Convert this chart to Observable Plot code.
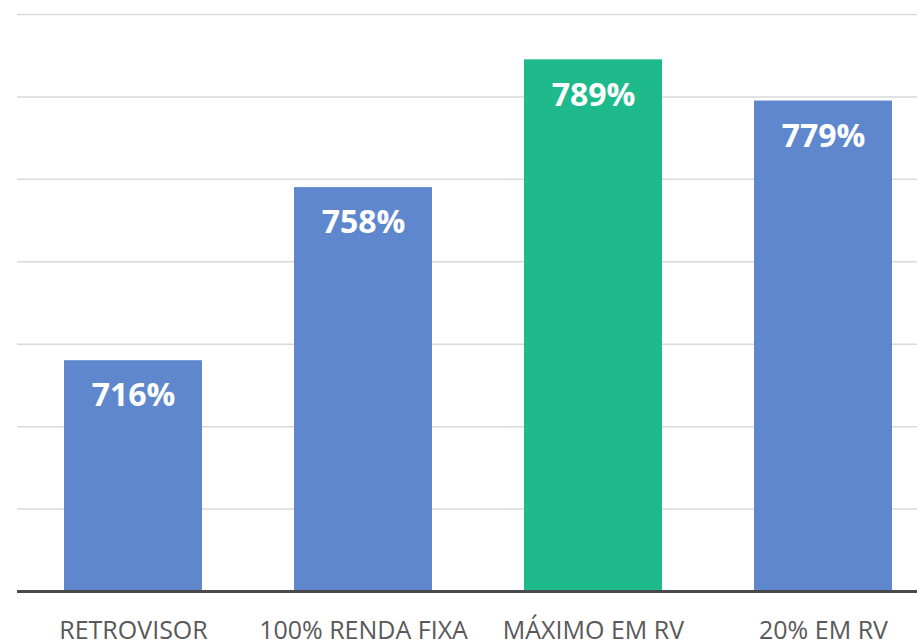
<!DOCTYPE html>
<html>
<head>
<meta charset="utf-8">
<script src="https://cdn.jsdelivr.net/npm/d3@7"></script>
<script src="https://cdn.jsdelivr.net/npm/@observablehq/plot@0.6"></script>
<style>
  html, body { margin: 0; padding: 0; background: #fff; overflow: hidden; }
  #chart svg { overflow: hidden; display: block; }
</style>
</head>
<body>
<div id="chart"></div>
<script>
const categories = ["RETROVISOR", "100% RENDA FIXA", "MÁXIMO EM RV", "20% EM RV"];
const values = [716, 758, 789, 779];
const valueLabels = ["716%", "758%", "789%", "779%"];
const highlighted = ["MÁXIMO EM RV"];
const gridValues = [680, 700, 720, 740, 760, 780, 800];
const yDomain = [660, 800];

const data = categories.map((c, i) => ({
  cat: c,
  value: values[i],
  label: valueLabels[i],
  hi: highlighted.includes(c)
}));

const chart = Plot.plot({
  width: 917,
  height: 642,
  marginTop: 14,
  marginBottom: 51,
  marginLeft: 17,
  marginRight: 0,
  style: { fontFamily: "'Open Sans', sans-serif", background: "#fff" },
  x: { domain: categories, range: [17, 939], paddingInner: 0.4, paddingOuter: 0.2, axis: null },
  y: { domain: yDomain, axis: null },
  marks: [
    Plot.ruleY(gridValues, { stroke: "#d9d9d9", strokeWidth: 1.5 }),
    Plot.barY(data, {
      x: "cat",
      y1: () => yDomain[0],
      y2: "value",
      fill: d => d.hi ? "#1fba8c" : "#5f87ce"
    }),
    Plot.text(data, {
      x: "cat",
      y: "value",
      text: "label",
      lineAnchor: "top",
      dy: 23,
      fill: "white",
      fontWeight: "bold",
      fontSize: 32
    }),
    Plot.ruleY([yDomain[0]], { stroke: "#4a4a4a", strokeWidth: 3 }),
    Plot.axisX({
      tickSize: 0,
      tickPadding: 30,
      fontSize: 25,
      color: "#595959",
      label: null
    })
  ]
});

document.getElementById("chart").appendChild(chart);
</script>
</body>
</html>
